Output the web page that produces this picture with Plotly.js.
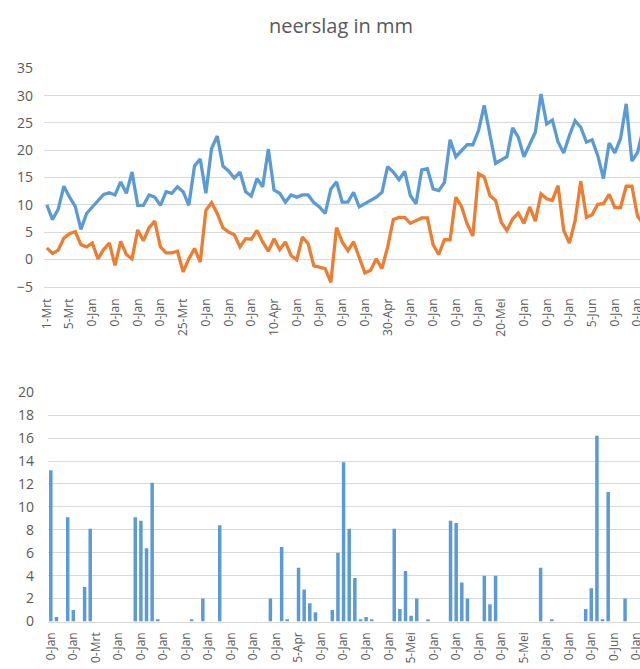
<!DOCTYPE html>
<html>
<head>
<meta charset="utf-8">
<script src="https://cdn.plot.ly/plotly-3.0.1.min.js"></script>
<style>
  html, body { margin: 0; padding: 0; background: #ffffff; overflow: hidden; }
  #chart { width: 640px; height: 669px; }
</style>
</head>
<body>
<div id="chart"></div>
<script>
// ---- data ----
const chartTitle = 'neerslag in mm';

// top chart: two daily series (one value per day, starting 1-Mrt)
const seriesBlue = [
  10.0, 7.3, 9.2, 13.4, 11.4, 9.7, 5.5, 8.4, 9.6, 10.8,
  11.9, 12.2, 11.8, 14.2, 12.1, 16.0, 9.9, 9.9, 11.8, 11.4,
  9.9, 12.4, 12.1, 13.3, 12.4, 9.9, 17.1, 18.4, 12.1, 20.3,
  22.6, 17.1, 16.2, 14.9, 16.0, 12.4, 11.6, 14.8, 13.3, 20.2,
  12.7, 12.1, 10.5, 11.8, 11.4, 11.8, 11.8, 10.4, 9.6, 8.4,
  12.9, 14.2, 10.5, 10.5, 12.3, 9.6, 10.2, 10.8, 11.4, 12.3,
  17.0, 16.0, 14.6, 16.1, 11.7, 10.2, 16.4, 16.6, 12.9, 12.6,
  14.1, 21.9, 18.8, 19.9, 21.0, 21.0, 23.6, 28.2, 23.0, 17.6,
  18.2, 18.8, 24.1, 22.4, 18.8, 20.9, 23.3, 30.3, 24.8, 25.5,
  21.5, 19.5, 22.7, 25.4, 24.2, 21.5, 21.9, 19.0, 14.8, 21.3,
  19.5, 22.1, 28.5, 18.0, 19.6, 24.0
];
const seriesOrange = [
  2.1, 1.1, 1.7, 3.9, 4.7, 5.1, 2.7, 2.3, 3.0, 0.1,
  1.8, 3.0, -1.1, 3.3, 0.9, 0.1, 5.4, 3.4, 5.8, 7.0,
  2.3, 1.2, 1.2, 1.5, -2.3, 0.1, 2.0, -0.5, 9.0, 10.4,
  8.4, 5.8, 5.0, 4.5, 2.3, 3.8, 3.7, 5.3, 3.2, 1.5,
  3.8, 1.8, 3.2, 0.7, -0.1, 4.1, 2.9, -1.2, -1.4, -1.7,
  -4.2, 5.8, 3.2, 1.6, 3.2, 0.3, -2.5, -2.0, 0.1, -1.7,
  2.3, 7.3, 7.7, 7.7, 6.6, 7.1, 7.6, 7.6, 2.7, 0.9,
  3.6, 3.6, 11.4, 9.7, 6.5, 4.3, 15.7, 15.1, 11.7, 10.8,
  6.8, 5.3, 7.4, 8.5, 6.6, 9.6, 7.0, 12.0, 11.1, 10.8,
  13.5, 5.3, 3.0, 7.1, 14.3, 7.7, 8.2, 10.1, 10.2, 11.9,
  9.5, 9.5, 13.4, 13.4, 7.9, 6.5
];
// top chart tick labels, one per 4 days
const topTickLabels = [
  '1-Mrt', '5-Mrt', '0-Jan', '0-Jan', '0-Jan', '0-Jan', '25-Mrt', '0-Jan', '0-Jan', '0-Jan',
  '10-Apr', '0-Jan', '0-Jan', '0-Jan', '0-Jan', '30-Apr', '0-Jan', '0-Jan', '0-Jan', '0-Jan',
  '20-Mei', '0-Jan', '0-Jan', '0-Jan', '5-Jun', '0-Jan', '0-Jan'
];

// bottom chart: daily rain (bars)
const rainValues = [
  13.2, 0.4, 0, 9.1, 1.0, 0, 3.0, 8.1, 0, 0,
  0, 0, 0, 0, 0, 9.1, 8.8, 6.4, 12.1, 0.2,
  0, 0, 0, 0, 0, 0.2, 0, 2.0, 0, 0,
  8.4, 0, 0, 0, 0, 0, 0, 0, 0, 2.0,
  0, 6.5, 0.2, 0, 4.7, 2.8, 1.6, 0.8, 0, 0,
  1.0, 6.0, 13.9, 8.1, 3.8, 0.2, 0.4, 0.2, 0, 0,
  0, 8.1, 1.1, 4.4, 0.5, 2.0, 0, 0.2, 0, 0,
  0, 8.8, 8.6, 3.4, 2.0, 0, 0, 4.0, 1.5, 4.0,
  0, 0, 0, 0, 0, 0, 0, 4.7, 0, 0.2,
  0, 0, 0, 0, 0, 1.1, 2.9, 16.2, 0.2, 11.3,
  0, 0, 2.0, 0, 0
];
const bottomTickLabels = [
  '0-Jan', '0-Jan', '0-Mrt', '0-Jan', '0-Jan', '0-Jan', '0-Jan', '0-Jan', '0-Jan', '0-Jan',
  '0-Jan', '5-Apr', '0-Jan', '0-Jan', '0-Jan', '0-Jan', '5-Mei', '0-Jan', '0-Jan', '0-Jan',
  '0-Jan', '5-Mei', '0-Jan', '0-Jan', '0-Jan', '0-Jun', '0-Jan'
];
const labelStep = 4;

// ---- build ----
const idx = n => Array.from({length: n}, (_, i) => i);
const xTop = idx(seriesBlue.length);
const xBottom = idx(rainValues.length);
const topTickVals = topTickLabels.map((_, k) => k * labelStep);
const bottomTickVals = bottomTickLabels.map((_, k) => k * labelStep);

const FONT = 'Open Sans, Liberation Sans, sans-serif';
const TXT = '#595959';
const GRID = '#D9D9D9';
const H = 669, W = 640;

const traces = [
  { type: 'scatter', mode: 'lines', x: xTop, y: seriesBlue, xaxis: 'x', yaxis: 'y',
    line: { color: '#5B9BD5', width: 3.3, shape: 'linear' }, hoverinfo: 'skip' },
  { type: 'scatter', mode: 'lines', x: xTop, y: seriesOrange, xaxis: 'x', yaxis: 'y',
    line: { color: '#ED7D31', width: 3.3, shape: 'linear' }, hoverinfo: 'skip' },
  { type: 'bar', x: xBottom, y: rainValues, xaxis: 'x2', yaxis: 'y2',
    marker: { color: '#5B9BD5', line: { width: 0 } }, hoverinfo: 'skip' }
];

const topLeft = 44, botLeft = 48;
const topPx = 5.68, botPx = 5.63;

const layout = {
  width: W, height: H,
  margin: { l: 0, r: 0, t: 0, b: 0 },
  paper_bgcolor: '#ffffff', plot_bgcolor: 'rgba(0,0,0,0)',
  showlegend: false,
  bargap: 0.38,
  title: { text: chartTitle, font: { family: FONT, size: 20, color: TXT },
           x: 341 / W, xanchor: 'center', y: 1 - 26 / H, yanchor: 'middle' },
  xaxis: {
    domain: [topLeft / W, 1], anchor: 'y',
    range: [-0.5, -0.5 + (W - topLeft) / topPx],
    tickmode: 'array', tickvals: topTickVals, ticktext: topTickLabels,
    tickangle: -90, ticks: '', showgrid: false, zeroline: false,
    showline: true, linecolor: GRID, linewidth: 1,
    tickfont: { family: FONT, size: 12, color: TXT }, ticklabelstandoff: 6,
    ticklabeloverflow: 'allow',
    fixedrange: true
  },
  yaxis: {
    domain: [(H - 286.7) / H, (H - 68.3) / H], anchor: 'x',
    range: [-5, 35], tickmode: 'linear', tick0: 0, dtick: 5,
    ticks: '', showgrid: true, gridcolor: GRID, gridwidth: 1, zeroline: false,
    showline: false,
    tickfont: { family: FONT, size: 14, color: TXT }, ticklabelstandoff: 10,
    fixedrange: true
  },
  xaxis2: {
    domain: [botLeft / W, 1], anchor: 'y2',
    range: [-0.5, -0.5 + (W - botLeft) / botPx],
    tickmode: 'array', tickvals: bottomTickVals, ticktext: bottomTickLabels,
    tickangle: -90, ticks: '', showgrid: false, zeroline: false,
    showline: true, linecolor: GRID, linewidth: 1,
    tickfont: { family: FONT, size: 12, color: TXT }, ticklabelstandoff: 5,
    ticklabeloverflow: 'allow',
    fixedrange: true
  },
  yaxis2: {
    domain: [(H - 621.5) / H, (H - 392.3) / H], anchor: 'x2',
    range: [0, 20], tickmode: 'linear', tick0: 0, dtick: 2,
    ticks: '', showgrid: true, gridcolor: GRID, gridwidth: 1, zeroline: false,
    showline: false,
    tickfont: { family: FONT, size: 14, color: TXT }, ticklabelstandoff: 13,
    fixedrange: true
  }
};

Plotly.newPlot('chart', traces, layout, { staticPlot: true, displayModeBar: false });
</script>
</body>
</html>
